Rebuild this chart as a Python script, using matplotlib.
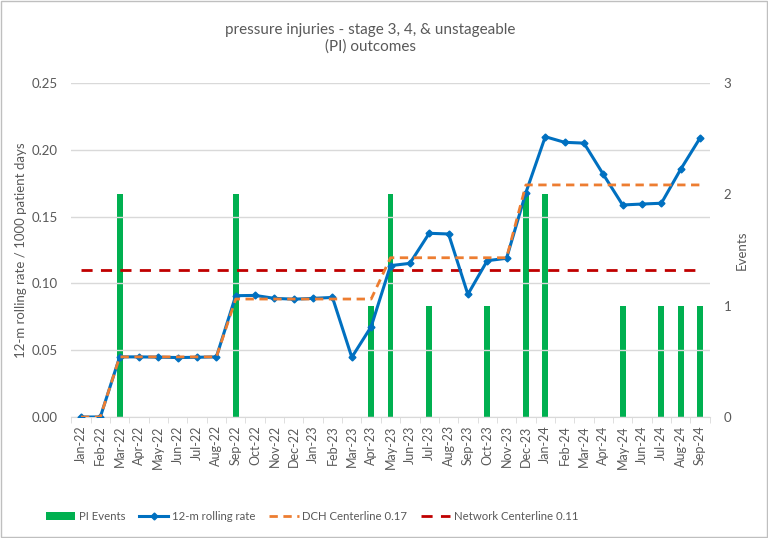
import matplotlib
matplotlib.use("Agg")
import matplotlib.pyplot as plt
import numpy as np

months = ["Jan-22","Feb-22","Mar-22","Apr-22","May-22","Jun-22","Jul-22","Aug-22","Sep-22","Oct-22","Nov-22","Dec-22",
          "Jan-23","Feb-23","Mar-23","Apr-23","May-23","Jun-23","Jul-23","Aug-23","Sep-23","Oct-23","Nov-23","Dec-23",
          "Jan-24","Feb-24","Mar-24","Apr-24","May-24","Jun-24","Jul-24","Aug-24","Sep-24"]
pi_events = [0,0,2,0,0,0,0,0,2,0,0,0,
             0,0,0,1,2,0,1,0,0,1,0,2,
             2,0,0,0,1,0,1,1,1]
rolling_rate = [0.0,0.0,0.045,0.045,0.0448,0.0445,0.0447,0.045,0.0908,0.091,0.0888,0.0882,
                0.0888,0.0895,0.0447,0.0676,0.1133,0.115,0.1375,0.137,0.0918,0.117,0.1188,0.168,
                0.2098,0.2056,0.205,0.1816,0.1587,0.1594,0.160,0.1854,0.2088]
dch_centerline = [0.0,0.0,0.045,0.045,0.045,0.045,0.045,0.045,0.0883,0.0883,0.0883,0.0883,
                  0.0883,0.0883,0.0883,0.0883,0.1192,0.1192,0.1192,0.1192,0.1192,0.1192,0.1192,0.1737,
                  0.1737,0.1737,0.1737,0.1737,0.1737,0.1737,0.1737,0.1737,0.1737]
network_centerline = [0.11]*len(months)

plt.rcParams['font.family'] = ['Lato', 'DejaVu Sans']
txt = '#595959'
fig = plt.figure(figsize=(7.68, 5.38), dpi=100)
fig.patches.append(plt.Rectangle((0.001, 0.001), 0.998, 0.997, transform=fig.transFigure,
                                 fill=False, edgecolor='#BFBFBF', linewidth=1))
ax = fig.add_axes([71.3/768, 1-417/538, (709.7-71.3)/768, (417-83)/538])
ax2 = ax.twinx()
ax.set_zorder(ax2.get_zorder()+1)
ax.patch.set_visible(False)

x = np.arange(len(months))
ax2.bar(x, pi_events, width=0.3, color='#00B050', label='PI Events', zorder=2)
ax2.set_ylim(0, 3)
ax2.set_yticks([0,1,2,3])

ax.plot(x, rolling_rate, color='#0070C0', lw=2.2, marker='D', ms=3.5, label='12-m rolling rate', zorder=4)
ax.plot(x, dch_centerline, color='#ED7D31', lw=2, ls=(0,(3,2)), label='DCH Centerline 0.17', zorder=5)
ax.plot(x, network_centerline, color='#C00000', lw=2, ls=(0,(4,3)), label='Network Centerline 0.11', zorder=3)

ax.set_xlim(-0.5, len(months)-0.5)
ax.set_ylim(0, 0.25)
ax.set_yticks(np.arange(0, 0.26, 0.05))
ax.set_yticklabels([f"{v:.2f}" for v in np.arange(0, 0.26, 0.05)])
ax.set_xticks(x)
ax.set_xticklabels(months, rotation=90)
ax.set_xticks(np.arange(-0.5, len(months), 1), minor=True)
ax.tick_params(axis='x', which='major', length=0, pad=6, labelsize=9, colors=txt)
ax.tick_params(axis='x', which='minor', length=4, color='#D9D9D9')
ax.tick_params(axis='y', length=0, labelsize=9.5, colors=txt, pad=10)
ax2.tick_params(axis='y', length=0, labelsize=9.5, colors=txt, pad=10)
ax.grid(axis='y', color='#D9D9D9', lw=1)
ax2.grid(False)
for a in (ax, ax2):
    for s in a.spines.values():
        s.set_visible(False)
ax.spines['bottom'].set_visible(True)
ax.spines['bottom'].set_color('#D9D9D9')

ax.set_ylabel('12-m rolling rate / 1000 patient days', color=txt, fontsize=9.5, labelpad=3)
ax2.set_ylabel('Events', color=txt, fontsize=9.5, labelpad=3, rotation=90)

fig.text(0.482, 1-30/538, 'pressure injuries - stage 3, 4, & unstageable', ha='center', va='center', color=txt, fontsize=11)
fig.text(0.482, 1-47/538, '(PI) outcomes', ha='center', va='center', color=txt, fontsize=11)

h1, l1 = ax2.get_legend_handles_labels()
h2, l2 = ax.get_legend_handles_labels()
fig.legend(h1+h2, l1+l2, loc='center', bbox_to_anchor=(312/768, 1-516/538), ncol=4, frameon=False,
           fontsize=8.2, labelcolor=txt,
           handlelength=2.6, columnspacing=1.2, handletextpad=0.3)

fig.savefig('out.png', dpi=100)
